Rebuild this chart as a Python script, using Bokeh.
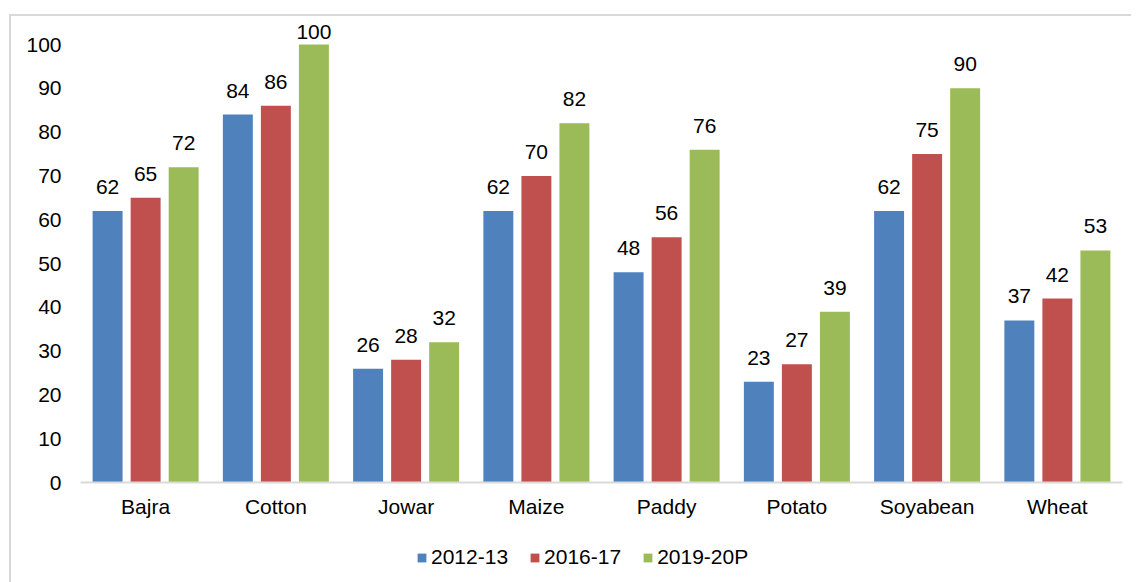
from bokeh.plotting import figure
from bokeh.layouts import column
from bokeh.models import ColumnDataSource, FactorRange, FixedTicker, Legend, LegendItem, LabelSet
from bokeh.core.properties import value
from bokeh.transform import dodge
from bokeh.embed import file_html
from bokeh.resources import INLINE

categories = ["Bajra", "Cotton", "Jowar", "Maize", "Paddy", "Potato", "Soyabean", "Wheat"]
series_names = ["2012-13", "2016-17", "2019-20P"]
v2012 = [62, 84, 26, 62, 48, 23, 62, 37]
v2016 = [65, 86, 28, 70, 56, 27, 75, 42]
v2019 = [72, 100, 32, 82, 76, 39, 90, 53]
colors = ["#4F81BD", "#C0504D", "#9BBB59"]
y_ticks = list(range(0, 101, 10))

FONT = "Liberation Sans"
FS = "21px"
Y_MAX = 106.4


def label_offsets(vals):
    # labels that would run past the top of the plot area are pulled down (as Excel does)
    return [6 if v > 96 else 17 for v in vals]


src = ColumnDataSource(dict(cat=categories, a=v2012, b=v2016, c=v2019,
                            la=[str(v) for v in v2012],
                            lb=[str(v) for v in v2016],
                            lc=[str(v) for v in v2019],
                            oa=label_offsets(v2012),
                            ob=label_offsets(v2016),
                            oc=label_offsets(v2019)))

p = figure(x_range=FactorRange(*categories), y_range=(0, Y_MAX),
           width=1120, height=514, output_backend="svg", toolbar_location=None,
           min_border_left=69, min_border_right=9, min_border_top=0, min_border_bottom=48)
p.outline_line_color = None
p.xgrid.visible = False
p.ygrid.visible = False
p.x_range.range_padding = 0
p.background_fill_color = "white"
p.border_fill_color = "white"

offsets = [-0.292, 0.0, 0.292]
cols = ["a", "b", "c"]
lcols = ["la", "lb", "lc"]
ocols = ["oa", "ob", "oc"]
for off, col, lcol, ocol, color in zip(offsets, cols, lcols, ocols, colors):
    p.vbar(x=dodge("cat", off, range=p.x_range), top=col, width=0.23,
           source=src, color=color, line_color=None)
    labels = LabelSet(x=dodge("cat", off, range=p.x_range), y=col, text=lcol, source=src,
                      text_align="center", text_baseline="alphabetic", y_offset=ocol,
                      text_font=value(FONT), text_font_size=value(FS), text_color="#000000")
    p.add_layout(labels)

p.yaxis.ticker = FixedTicker(ticks=y_ticks)
p.yaxis.axis_line_color = None
p.yaxis.major_tick_line_color = None
p.yaxis.minor_tick_line_color = None
p.yaxis.major_label_standoff = 13
p.yaxis.major_label_text_font = FONT
p.yaxis.major_label_text_font_size = FS
p.yaxis.major_label_text_color = "#000000"

p.xaxis.axis_line_color = "#D9D9D9"
p.xaxis.axis_line_width = 2
p.xaxis.major_tick_line_color = None
p.xaxis.minor_tick_line_color = None
p.xaxis.major_label_standoff = 6
p.xaxis.major_label_text_font = FONT
p.xaxis.major_label_text_font_size = FS
p.xaxis.major_label_text_color = "#000000"

# legend strip below the chart
p2 = figure(width=1120, height=52, output_backend="svg", toolbar_location=None,
            x_axis_type=None, y_axis_type=None, x_range=(0, 1), y_range=(0, 1),
            min_border_left=0, min_border_right=0, min_border_top=0, min_border_bottom=0)
p2.outline_line_color = None
p2.xgrid.visible = False
p2.ygrid.visible = False
p2.background_fill_color = "white"
p2.border_fill_color = "white"
# off-screen placeholder glyphs, only used to draw the legend swatches
dummy = ColumnDataSource(dict(x=[-5], top=[-5]))
legend_renderers = [p2.vbar(x="x", top="top", width=0.1, source=dummy, color=c, line_color=None)
                    for c in colors]
legend = Legend(items=[LegendItem(label=n, renderers=[r]) for n, r in zip(series_names, legend_renderers)],
                orientation="horizontal", location=(336, 13),
                glyph_width=11, glyph_height=11, label_standoff=4, spacing=21,
                label_text_font=FONT, label_text_font_size=FS, label_text_color="#000000",
                border_line_color=None, background_fill_alpha=0, padding=3, margin=0)
p2.add_layout(legend, "center")

layout = column(p, p2, spacing=0,
                styles={"margin-top": "14px", "margin-left": "9px",
                        "border-top": "2px solid #d9d9d9", "border-left": "2px solid #d9d9d9"})

open("out.html", "w").write(file_html(layout, INLINE))
